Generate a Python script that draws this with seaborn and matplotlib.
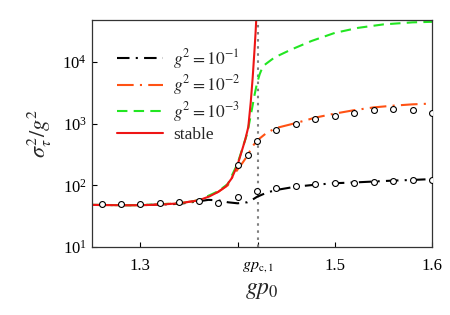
import matplotlib
matplotlib.use("Agg")
import matplotlib.pyplot as plt
import numpy as np
import pandas as pd
import seaborn as sns

# critical coupling
gp_c1 = 1.4213

# stable branch
stable_x = [1.25, 1.28, 1.30, 1.32, 1.34, 1.36, 1.371, 1.38, 1.388, 1.394, 1.40,
            1.405, 1.408, 1.411, 1.4135, 1.4155, 1.4172, 1.4185, 1.4195]
stable_y = [48, 47.5, 47.5, 48.5, 51, 57, 66, 78, 96, 130, 215,
            390, 560, 880, 2200, 5500, 14000, 30000, 60000]

# g^2 = 1e-1
g1_x = [1.25, 1.30, 1.34, 1.36, 1.37, 1.38, 1.39, 1.40, 1.41, 1.415, 1.42, 1.43,
        1.44, 1.46, 1.48, 1.50, 1.52, 1.54, 1.56, 1.58, 1.60]
g1_y = [48, 47.5, 50, 55, 58, 57, 53, 51, 53, 58, 65, 76,
        84, 95, 102, 108, 111, 115, 119, 122, 126]

# g^2 = 1e-2
g2_x = [1.25, 1.30, 1.34, 1.36, 1.38, 1.39, 1.395, 1.40, 1.405, 1.41, 1.415, 1.42,
        1.43, 1.44, 1.46, 1.48, 1.50, 1.52, 1.54, 1.56, 1.58, 1.60]
g2_y = [48, 47.5, 51, 57, 78, 100, 140, 180, 230, 300, 420, 530,
        710, 850, 1020, 1250, 1450, 1650, 1830, 1950, 2050, 2110]

# g^2 = 1e-3
g3_x = [1.25, 1.30, 1.34, 1.36, 1.38, 1.39, 1.40, 1.41, 1.415, 1.4175, 1.42, 1.4227,
        1.426, 1.43, 1.438, 1.455, 1.476, 1.50, 1.524, 1.55, 1.58, 1.60]
g3_y = [48, 47.5, 51, 57, 80, 105, 225, 700, 1800, 2950, 4500, 6300,
        8500, 9500, 11800, 15800, 21800, 29500, 35600, 40500, 43700, 44600]

# simulation points
sim1_x = [1.26, 1.28, 1.30, 1.32, 1.34, 1.36, 1.38, 1.40, 1.42, 1.44, 1.46, 1.48,
          1.50, 1.52, 1.54, 1.56, 1.58, 1.60]
sim1_y = [49.4, 49, 49, 50.7, 53, 56.5, 52.5, 64, 82, 90, 95.5, 103,
          107, 108, 115, 118, 122, 123]
sim2_x = [1.40, 1.411, 1.42, 1.44, 1.46, 1.48, 1.50, 1.52, 1.54, 1.56, 1.58, 1.60]
sim2_y = [215, 313, 515, 780, 1000, 1200, 1350, 1500, 1630, 1740, 1630, 1500]

sns.set_theme(style="ticks")
plt.rcParams["font.family"] = ["Liberation Serif", "DejaVu Serif"]
plt.rcParams["mathtext.fontset"] = "stix"

fig = plt.figure(figsize=(4.5, 3.15), dpi=100)
ax = fig.add_axes([0.204, 0.216, 0.756, 0.721])

sns.lineplot(x=g1_x, y=g1_y, ax=ax, color="black", lw=1.5, sort=False,
             linestyle=(0, (6, 3, 1, 3)), label=r"$g^2 = 10^{-1}$")
sns.lineplot(x=g2_x, y=g2_y, ax=ax, color="#ff5214", lw=1.5, sort=False,
             linestyle=(0, (8, 3, 1, 3)), label=r"$g^2 = 10^{-2}$")
sns.lineplot(x=g3_x, y=g3_y, ax=ax, color="#22e622", lw=1.5, sort=False,
             linestyle=(0, (5, 3)), label=r"$g^2 = 10^{-3}$")
sns.lineplot(x=stable_x, y=stable_y, ax=ax, color="#ee1515", lw=1.5, sort=False,
             label="stable")

sns.scatterplot(x=sim1_x + sim2_x, y=sim1_y + sim2_y, ax=ax, marker="o",
                facecolor="white", edgecolor="black", linewidth=0.8, s=18,
                zorder=5)

ax.axvline(gp_c1, color="gray", ls=(0, (1.2, 2.2)), lw=1.5, zorder=1)

ax.set_yscale("log")
ax.set_xlim(1.25, 1.6)
ax.set_ylim(10, 4.8e4)
ax.set_xticks([1.3, 1.4, gp_c1, 1.5, 1.6])
ax.set_xticklabels(["1.3", "", r"$gp_{\rm c,1}$", "1.5", "1.6"])
ax.set_yticks([10, 100, 1000, 10000])
ax.yaxis.set_minor_locator(matplotlib.ticker.NullLocator())
ax.tick_params(direction="in", length=3.5, width=0.8, labelsize=12, colors="black")
ax.tick_params(axis="x", pad=8)
ax.get_xticklabels()[2].set_fontsize(11.5)
for s in ax.spines.values():
    s.set_linewidth(0.9)
    s.set_color("#333333")

ax.set_xlabel(r"$gp_0$", fontsize=17, labelpad=4)
ax.set_ylabel(r"$\sigma_\tau^2/g^2$", fontsize=16, labelpad=6)

handles, labels = ax.get_legend_handles_labels()
order = [labels.index(l) for l in [r"$g^2 = 10^{-1}$", r"$g^2 = 10^{-2}$",
                                   r"$g^2 = 10^{-3}$", "stable"]]
ax.legend([handles[i] for i in order], [labels[i] for i in order],
          loc="upper left", bbox_to_anchor=(0.055, 0.912), frameon=False,
          fontsize=12.5, handlelength=2.6, labelspacing=0.15, handletextpad=0.6,
          borderaxespad=0)

fig.savefig("out.png", dpi=100)
